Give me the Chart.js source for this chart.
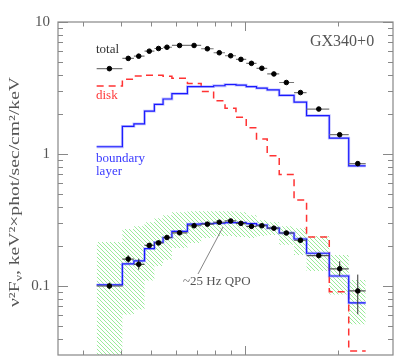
<!DOCTYPE html>
<html>
<head>
<meta charset="utf-8">
<script src="https://cdn.jsdelivr.net/npm/chart.js@4"></script>
<style>
  html, body { margin: 0; padding: 0; background: #fff; }
  #wrap { width: 415px; height: 360px; position: relative; }
</style>
</head>
<body>
<div id="wrap"><canvas id="spec"></canvas></div>
<script>
// energy channels (keV)
const binEdges   = [3.33, 4.03, 4.39, 4.75, 5.11, 5.45, 5.82, 6.53, 7.23, 7.93, 8.63, 9.36, 10.1, 10.9, 11.8, 12.9, 14.4, 15.8, 18.7, 21.6, 24.5];
const binCentres = [3.66, 4.21, 4.55, 4.92, 5.27, 5.61, 6.16, 6.86, 7.57, 8.27, 9.0, 9.71, 10.5, 11.34, 12.4, 13.6, 15.1, 17.3, 20.2, 23.1];

// nuFnu values per channel
const totalFlux    = [4.43, 5.30, 5.51, 6.01, 6.30, 6.44, 6.64, 6.64, 6.27, 5.85, 5.55, 5.21, 4.86, 4.46, 4.04, 3.48, 2.92, 2.19, 1.40, 0.845];
const diskModel    = [3.28, 3.68, 3.90, 3.95, 3.95, 3.88, 3.75, 3.42, 2.98, 2.53, 2.22, 1.90, 1.58, 1.30, 0.97, 0.70, 0.448, 0.235, 0.0906, 0.0321];
const blModel      = [1.135, 1.62, 1.69, 2.11, 2.38, 2.61, 2.87, 3.24, 3.24, 3.29, 3.36, 3.33, 3.24, 3.15, 3.06, 2.78, 2.47, 1.95, 1.32, 0.813];

// 25 Hz QPO rms spectrum
const qpoFlux  = [0.100, 0.160, 0.146, 0.203, 0.212, 0.233, 0.253, 0.286, 0.294, 0.304, 0.311, 0.298, 0.283, 0.286, 0.274, 0.252, 0.222, 0.170, 0.135, 0.0917];
const qpoLow   = [0.095, 0.150, 0.133, 0.195, 0.204, 0.226, 0.246, 0.279, 0.287, 0.297, 0.304, 0.290, 0.272, 0.279, 0.266, 0.244, 0.212, 0.162, 0.119, 0.0611];
const qpoHigh  = [0.106, 0.171, 0.161, 0.212, 0.221, 0.241, 0.260, 0.293, 0.301, 0.311, 0.318, 0.306, 0.295, 0.293, 0.283, 0.260, 0.232, 0.178, 0.154, 0.122];
const qpoModel = [0.102, 0.147, 0.155, 0.192, 0.214, 0.233, 0.259, 0.294, 0.297, 0.299, 0.302, 0.302, 0.297, 0.289, 0.274, 0.252, 0.227, 0.177, 0.119, 0.0745];
const bandHigh = [0.215, 0.270, 0.284, 0.304, 0.326, 0.344, 0.362, 0.368, 0.368, 0.368, 0.368, 0.362, 0.344, 0.315, 0.304, 0.284, 0.274, 0.239, 0.172, 0.111];
const bandLow  = [0.02, 0.0609, 0.0664, 0.110, 0.142, 0.158, 0.194, 0.212, 0.231, 0.239, 0.239, 0.235, 0.231, 0.239, 0.243, 0.205, 0.172, 0.130, 0.0861, 0.0512];

// axes
const xRange = [2.5, 30];
const yRange = [0.03, 10];
const yLabelTicks = [0.1, 1, 10];
const yLabelText  = ['0.1', '1', '10'];
const yMinorTicks = [0.04, 0.05, 0.06, 0.07, 0.08, 0.09, 0.2, 0.3, 0.4, 0.5, 0.6, 0.7, 0.8, 0.9, 2, 3, 4, 5, 6, 7, 8, 9];
const xMajorTicks = [10];
const xMinorTicks = [3, 4, 5, 6, 7, 8, 9, 20];

// histogram style: one point per edge, last value repeated
function steps(vals) {
  return binEdges.map((e, i) => ({ x: e, y: vals[Math.min(i, vals.length - 1)] }));
}
function xBars(vals) {
  const out = [];
  vals.forEach((v, i) => {
    out.push({ x: binEdges[i], y: v }, { x: binEdges[i + 1], y: v }, { x: binEdges[i + 1], y: null });
  });
  return out;
}
function yBars(lo, hi) {
  const out = [];
  lo.forEach((v, i) => {
    out.push({ x: binCentres[i], y: v }, { x: binCentres[i], y: hi[i] }, { x: binCentres[i], y: null });
  });
  return out;
}
function dots(vals) {
  return vals.map((v, i) => ({ x: binCentres[i], y: v }));
}

function hatchPattern() {
  const c = document.createElement('canvas');
  c.width = 4; c.height = 4;
  const g = c.getContext('2d');
  g.fillStyle = '#9bec9b';
  for (let i = 0; i < 4; i++) g.fillRect(i, i, 1, 1);
  return g.createPattern(c, 'repeat');
}

const stepLine = { stepped: true, pointRadius: 0, fill: false, spanGaps: false };

const frame = {
  id: 'frame',
  afterDraw(chart) {
    const { ctx, chartArea: a, scales: { x, y } } = chart;
    ctx.save();
    ctx.strokeStyle = '#888';
    ctx.lineWidth = 1.2;
    ctx.strokeRect(a.left, a.top, a.right - a.left, a.bottom - a.top);
    ctx.lineWidth = 1;
    ctx.beginPath();
    const yt = (v, len) => {
      const p = Math.round(y.getPixelForValue(v)) + 0.5;
      ctx.moveTo(a.left, p); ctx.lineTo(a.left + len, p);
      ctx.moveTo(a.right, p); ctx.lineTo(a.right - len, p);
    };
    const xt = (v, len) => {
      const p = Math.round(x.getPixelForValue(v)) + 0.5;
      ctx.moveTo(p, a.top); ctx.lineTo(p, a.top + len);
      ctx.moveTo(p, a.bottom); ctx.lineTo(p, a.bottom - len);
    };
    yLabelTicks.forEach(v => yt(v, 10));
    yMinorTicks.forEach(v => yt(v, 5));
    xMajorTicks.forEach(v => xt(v, 9));
    xMinorTicks.forEach(v => xt(v, 4.5));
    ctx.stroke();

    // labels
    ctx.textBaseline = 'middle';
    ctx.textAlign = 'left';
    ctx.font = '13px "Liberation Serif"';
    ctx.fillStyle = '#333';
    ctx.fillText('total', 96, 50);
    ctx.fillStyle = '#ff3b3b';
    ctx.fillText('disk', 96, 96);
    ctx.fillStyle = '#3a3aff';
    ctx.fillText('boundary', 96, 159);
    ctx.fillText('layer', 96, 172);
    ctx.fillStyle = '#555';
    ctx.font = '16px "Liberation Serif"';
    ctx.fillText('GX340+0', 310, 42);
    ctx.font = '13px "Liberation Serif"';
    ctx.fillText('~25 Hz QPO', 183, 282);
    ctx.strokeStyle = '#666';
    ctx.lineWidth = 0.8;
    ctx.beginPath();
    ctx.moveTo(198, 274); ctx.lineTo(223, 227);
    ctx.stroke();

    // y title, rotated
    ctx.translate(19, 307);
    ctx.rotate(-Math.PI / 2);
    ctx.textBaseline = 'alphabetic';
    const big = '14px "Liberation Serif"', small = '10px "Liberation Serif"';
    const parts = [['ν²F', big, 0], ['ν', small, 3], [', keV²×phot/sec/cm²/keV', big, 0]];
    let w = 0;
    parts.forEach(p => { ctx.font = p[1]; w += ctx.measureText(p[0]).width; });
    ctx.scale(230 / w, 1);
    let cx = 0;
    ctx.fillStyle = '#555';
    parts.forEach(p => {
      ctx.font = p[1];
      ctx.fillText(p[0], cx, p[2]);
      cx += ctx.measureText(p[0]).width;
    });
    ctx.restore();
  }
};

new Chart(document.getElementById('spec'), {
  type: 'line',
  data: {
    datasets: [
      { ...stepLine, data: steps(bandLow), borderWidth: 0, order: 20 },
      { ...stepLine, data: steps(bandHigh), borderWidth: 0, fill: { target: 0 }, backgroundColor: hatchPattern(), order: 19 },
      { ...stepLine, data: steps(diskModel), borderColor: '#ff3333', borderWidth: 1.5, borderDash: [7, 5], order: 10 },
      { ...stepLine, data: steps(blModel), borderColor: 'rgba(120,120,255,0.45)', borderWidth: 2.8, order: 9 },
      { ...stepLine, data: steps(blModel), borderColor: '#1a1aff', borderWidth: 1.2, order: 8 },
      { ...stepLine, data: steps(qpoModel), borderColor: 'rgba(120,120,255,0.45)', borderWidth: 2.8, order: 9 },
      { ...stepLine, data: steps(qpoModel), borderColor: '#1a1aff', borderWidth: 1.2, order: 8 },
      { data: xBars(totalFlux), borderColor: '#777', borderWidth: 1.2, pointRadius: 0, spanGaps: false, order: 5 },
      { data: xBars(qpoFlux), borderColor: '#555', borderWidth: 1.2, pointRadius: 0, spanGaps: false, order: 5 },
      { data: yBars(qpoLow, qpoHigh), borderColor: '#333', borderWidth: 1, pointRadius: 0, spanGaps: false, order: 5 },
      { data: dots(totalFlux), showLine: false, pointRadius: 2.3, pointBackgroundColor: '#000', pointBorderColor: '#000', order: 1 },
      { data: dots(qpoFlux), showLine: false, pointRadius: 2.3, pointBackgroundColor: '#000', pointBorderColor: '#000', order: 1 }
    ]
  },
  options: {
    responsive: true,
    maintainAspectRatio: false,
    animation: false,
    events: [],
    layout: { padding: { left: 0, top: 22, right: 22, bottom: 3 } },
    plugins: {
      legend: { display: false },
      tooltip: { enabled: false },
      filler: { drawTime: 'beforeDatasetsDraw' }
    },
    scales: {
      x: { type: 'logarithmic', min: xRange[0], max: xRange[1], display: false },
      y: {
        type: 'logarithmic', min: yRange[0], max: yRange[1], position: 'left',
        grid: { display: false, drawTicks: false },
        border: { display: false },
        afterBuildTicks: s => { s.ticks = yLabelTicks.map(v => ({ value: v })); },
        afterFit: s => { s.width = 58; s.paddingTop = 0; s.paddingBottom = 0; },
        ticks: {
          autoSkip: false, padding: 8, color: '#555',
          font: { family: '"Liberation Serif"', size: 15 },
          callback: v => yLabelText[yLabelTicks.indexOf(v)]
        }
      }
    }
  },
  plugins: [frame]
});
</script>
</body>
</html>
